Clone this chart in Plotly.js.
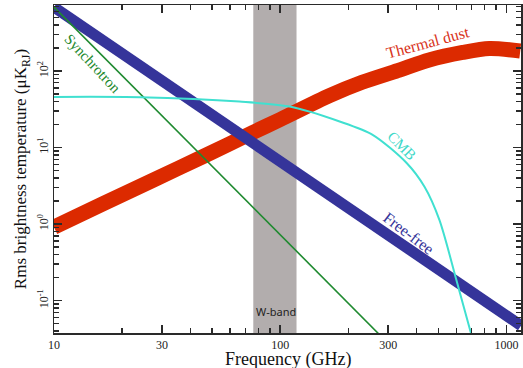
<!DOCTYPE html>
<html>
<head>
<meta charset="utf-8">
<script src="https://cdn.plot.ly/plotly-3.0.1.min.js"></script>
<style>html,body{margin:0;padding:0;background:#fff;}#chart{width:523px;height:368px;}</style>
</head>
<body>
<div id="chart"></div>
<script>
// Frequencies (GHz) and rms brightness temperatures (uK_RJ)
const dustFreq = [10, 16.6, 27.6, 46, 76, 100, 165, 230, 330, 455, 640, 840, 1150];
const dustTemp = [0.91, 1.86, 3.77, 7.7, 15.8, 23.2, 47.5, 71, 101, 139, 174, 196, 182];

const freefreeFreq = [10, 30, 100, 300, 1000, 1160];
const freefreeTemp = [680, 74, 6.5, 0.71, 0.063, 0.047];

const synchFreq = [10, 20, 30, 50, 100, 200, 300];
const synchTemp = [683, 87, 26, 5.7, 0.72, 0.092, 0.0275];

const cmbFreq = [10, 24, 66, 110, 183, 256, 361, 434, 505, 600, 699, 740];
const cmbTemp = [45.7, 45.3, 39.7, 34.2, 21.8, 14.6, 6.3, 3.06, 1.13, 0.187, 0.036, 0.02];

const wBand = [76, 118];

const xTickVals = [10, 30, 100, 300, 1000];
const xTickText = ['10', '30', '100', '300', '1000'];
const xMinorVals = [20, 40, 50, 60, 70, 80, 90, 200, 400, 500, 600, 700, 800, 900];
const yTickVals = [0.1, 1, 10, 100];
const yTickText = ['10<sup>-1</sup>', '10<sup>0</sup>', '10<sup>1</sup>', '10<sup>2</sup>'];
const yMinorVals = [0.04, 0.05, 0.06, 0.07, 0.08, 0.09, 0.2, 0.3, 0.4, 0.5, 0.6, 0.7, 0.8, 0.9,
  2, 3, 4, 5, 6, 7, 8, 9, 20, 30, 40, 50, 60, 70, 80, 90, 200, 300, 400, 500, 600, 700];

const serif = 'Liberation Serif, Times New Roman, serif';
const axCol = '#2a2a2a';

const traces = [
  {x: dustFreq, y: dustTemp, mode: 'lines', line: {color: '#dc2a00', width: 15, shape: 'spline', smoothing: 0.8}, name: 'Thermal dust'},
  {x: freefreeFreq, y: freefreeTemp, mode: 'lines', line: {color: '#35349a', width: 11}, name: 'Free-free'},
  {x: synchFreq, y: synchTemp, mode: 'lines', line: {color: '#1f8a30', width: 1.6}, name: 'Synchrotron'},
  {x: cmbFreq, y: cmbTemp, mode: 'lines', line: {color: '#40e0d0', width: 2, shape: 'spline', smoothing: 0.8}, name: 'CMB'}
];

const layout = {
  width: 523, height: 368,
  margin: {l: 54, r: 2, t: 5, b: 35},
  paper_bgcolor: '#fff', plot_bgcolor: '#fff',
  showlegend: false,
  xaxis: {
    type: 'log', range: [1, 3.064],
    tickmode: 'array', tickvals: xTickVals, ticktext: xTickText,
    ticks: 'inside', ticklen: 8, tickwidth: 1.6, tickcolor: axCol,
    showline: true, linecolor: axCol, linewidth: 1.5, mirror: 'ticks',
    showgrid: false, zeroline: false,
    tickfont: {family: serif, size: 12, color: '#222'},
    minor: {tickmode: 'array', tickvals: xMinorVals, ticks: 'inside', ticklen: 5, tickwidth: 1.4, tickcolor: axCol, showgrid: false}
  },
  yaxis: {
    type: 'log', range: [-1.424, 2.861],
    tickmode: 'array', tickvals: yTickVals, ticktext: yTickText, tickangle: -90,
    ticks: 'inside', ticklen: 8, tickwidth: 1.6, tickcolor: axCol,
    showline: true, linecolor: axCol, linewidth: 1.5, mirror: 'ticks',
    showgrid: false, zeroline: false,
    tickfont: {family: serif, size: 12, color: '#222'},
    minor: {tickmode: 'array', tickvals: yMinorVals, ticks: 'inside', ticklen: 5, tickwidth: 1.4, tickcolor: axCol, showgrid: false},
    title: {text: 'Rms brightness temperature (μK<sub>RJ</sub>)', font: {family: serif, size: 17, color: '#111'}, standoff: 4}
  },
  shapes: [{
    type: 'rect', xref: 'x', yref: 'paper', x0: wBand[0], x1: wBand[1], y0: 0, y1: 1,
    fillcolor: '#b2adad', line: {width: 0}, layer: 'below'
  }],
  annotations: [
    {text: 'Frequency (GHz)', xref: 'paper', yref: 'paper', x: 0.502, y: -0.0823, showarrow: false,
     xanchor: 'center', yanchor: 'middle', font: {family: serif, size: 18, color: '#111'}},
    {text: 'Synchrotron', xref: 'paper', yref: 'paper', x: 0.0835, y: 0.820, showarrow: false, textangle: 47,
     xanchor: 'center', yanchor: 'middle', font: {family: serif, size: 15, color: '#1f8a30'}},
    {text: 'Thermal dust', xref: 'paper', yref: 'paper', x: 0.799, y: 0.887, showarrow: false, textangle: -15,
     xanchor: 'center', yanchor: 'middle', font: {family: serif, size: 16, color: '#d8321a'}},
    {text: 'CMB', xref: 'paper', yref: 'paper', x: 0.745, y: 0.570, showarrow: false, textangle: 45,
     xanchor: 'center', yanchor: 'middle', font: {family: serif, size: 15, color: '#40d8c8'}},
    {text: 'Free-free', xref: 'paper', yref: 'paper', x: 0.760, y: 0.302, showarrow: false, textangle: 37,
     xanchor: 'center', yanchor: 'middle', font: {family: serif, size: 16, color: '#35349a'}},
    {text: 'W-band', xref: 'paper', yref: 'paper', x: 0.476, y: 0.067, showarrow: false,
     xanchor: 'center', yanchor: 'middle', font: {family: 'Noto Sans, Liberation Sans, sans-serif', size: 11, color: '#222'}}
  ]
};

Plotly.newPlot('chart', traces, layout, {displayModeBar: false, staticPlot: true});
</script>
</body>
</html>
